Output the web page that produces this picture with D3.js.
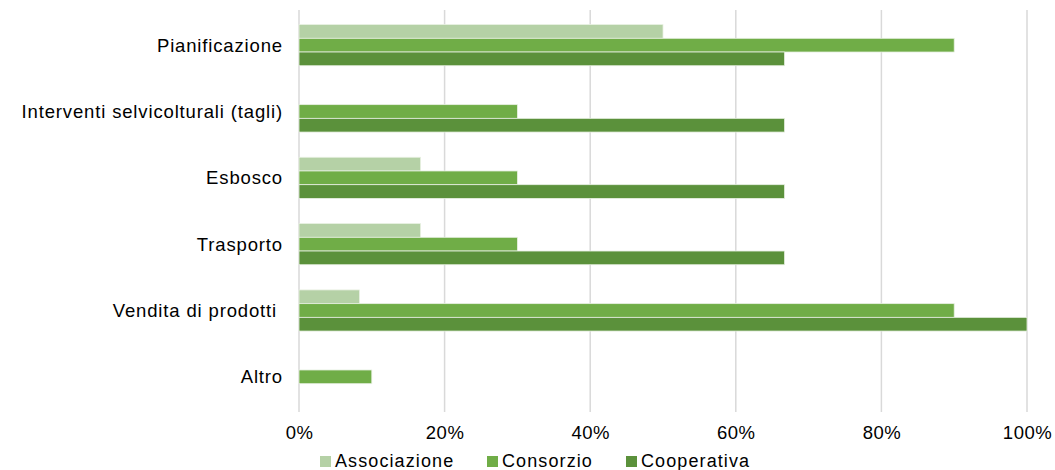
<!DOCTYPE html>
<html>
<head>
<meta charset="utf-8">
<script src="https://cdn.jsdelivr.net/npm/d3@7"></script>
<style>
  body { margin: 0; background: #fff; }
  text { font-family: "Liberation Sans", Arial, sans-serif; fill: #000; }
</style>
</head>
<body>
<div id="container"></div>
<script>
// data
const categories = ["Pianificazione", "Interventi selvicolturali (tagli)", "Esbosco", "Trasporto", "Vendita di prodotti ", "Altro"];
const seriesNames = ["Associazione", "Consorzio", "Cooperativa"];
const associazione = [50, 0, 16.7, 16.7, 8.3, 0];
const consorzio = [90, 30, 30, 30, 90, 10];
const cooperativa = [66.7, 66.7, 66.7, 66.7, 100, 0];
const xTicks = [0, 20, 40, 60, 80, 100];
const colors = ["#b5d1a6", "#70ad47", "#5b913b"];

const w = 1055, h = 470;
const plotLeft = 299, plotRight = 1027, plotTop = 12, plotBottom = 410;

const dataset = categories.map((c, i) => ({
  cat: c,
  values: [associazione[i], consorzio[i], cooperativa[i]]
}));

const svg = d3.select("#container").append("svg")
  .attr("width", w).attr("height", h);

// scales
const xScale = d3.scaleLinear().domain([0, 100]).range([plotLeft, plotRight]);
const yScale = d3.scaleBand().domain(categories)
  .range([plotTop, plotBottom]).paddingInner(0.38).paddingOuter(0.19);
const ySub = d3.scaleBand().domain(seriesNames).range([0, yScale.bandwidth()]);

// gridlines
svg.append("g").selectAll("line")
  .data(xTicks).enter().append("line")
  .attr("x1", d => xScale(d)).attr("x2", d => xScale(d))
  .attr("y1", plotTop - 2).attr("y2", plotBottom + 2)
  .style("stroke", "#d9d9d9").style("stroke-width", 1.5);

// bars
const groups = svg.append("g").selectAll("g")
  .data(dataset).enter().append("g")
  .attr("transform", d => "translate(0," + yScale(d.cat) + ")");

groups.selectAll("rect")
  .data(d => d.values.map((v, j) => ({ v: v, s: seriesNames[j], j: j })).filter(e => e.v > 0))
  .enter().append("rect")
  .attr("x", xScale(0))
  .attr("y", d => ySub(d.s))
  .attr("width", d => xScale(d.v) - xScale(0))
  .attr("height", ySub.bandwidth())
  .style("fill", d => colors[d.j])
  .style("stroke", "#e8f0e2").style("stroke-width", 0.8);

// category labels
svg.append("g").selectAll("text")
  .data(categories).enter().append("text")
  .attr("x", 283)
  .attr("y", d => yScale(d) + yScale.bandwidth() / 2)
  .attr("dy", "0.36em")
  .style("text-anchor", "end")
  .style("font-size", "18.5px")
  .style("letter-spacing", "0.85px")
  .style("white-space", "pre")
  .text(d => d);

// x axis tick labels
const xAxis = d3.axisBottom(xScale).tickValues(xTicks).tickFormat(d => d + "%").tickSize(0).tickPadding(0);
const ax = svg.append("g").attr("transform", "translate(0,426)").call(xAxis);
ax.select(".domain").remove();
ax.selectAll("text").style("font-size", "18.5px")
  .style("letter-spacing", "0.5px")
  .style("font-family", "'Liberation Sans', Arial, sans-serif").attr("fill", "#000");

// legend
const legendX = [320, 487, 626];
const legend = svg.append("g").selectAll("g")
  .data(seriesNames).enter().append("g")
  .attr("transform", (d, i) => "translate(" + legendX[i] + ",456)");
legend.append("rect")
  .attr("width", 11).attr("height", 11)
  .style("fill", (d, i) => colors[i]);
legend.append("text")
  .attr("x", 15).attr("y", 11)
  .style("font-size", "18px")
  .style("letter-spacing", "1.1px")
  .text(d => d);
</script>
</body>
</html>
